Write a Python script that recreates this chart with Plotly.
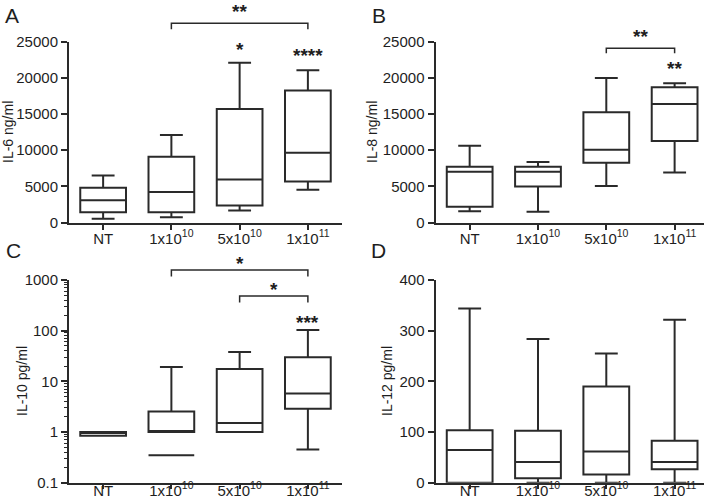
import plotly.graph_objects as go

W, H = 709, 498

categories = ["NT", "1x10<sup>10</sup>", "5x10<sup>10</sup>", "1x10<sup>11</sup>"]
cat_pos = [0, 1, 2, 3]

# Panel A: IL-6 ng/ml
il6_min = [510, 740, 1660, 4520]
il6_q1 = [1430, 1430, 2350, 5670]
il6_med = [3090, 4200, 5950, 9640]
il6_q3 = [4800, 9090, 15680, 18220]
il6_max = [6500, 12080, 22050, 21030]

# Panel B: IL-8 ng/ml
il8_min = [1570, 1480, 5030, 6920]
il8_q1 = [2170, 4980, 8260, 11260]
il8_med = [7010, 7010, 10060, 16380]
il8_q3 = [7700, 7700, 15220, 18680]
il8_max = [10610, 8350, 19970, 19230]

# Panel C: IL-10 pg/ml (log scale)
il10_min = [0.84, 1.0, 1.0, 0.45]
il10_q1 = [0.84, 1.0, 1.0, 2.87]
il10_med = [1.0, 1.0, 1.51, 5.73]
il10_q3 = [1.0, 2.55, 17.5, 29.9]
il10_max = [1.0, 19.3, 37.9, 102.6]
il10_low_cat = [1]          # detached lowest value line for 1x10^10
il10_low_val = [0.348]

# Panel D: IL-12 pg/ml
il12_min = [0, 0, 0, 0]
il12_q1 = [0, 8.8, 16.1, 26.4]
il12_med = [64.5, 41, 61.5, 41]
il12_q3 = [103.3, 102.6, 189.7, 82.8]
il12_max = [343.6, 283.5, 255, 321.6]

LINE = "#2a2a2a"
TXT = "#1e1e1e"
FONT = "Arial, Liberation Sans, sans-serif"

fig = go.Figure()

def add_box(xa, ya, q1, med, q3, lo, hi, x=cat_pos):
    fig.add_trace(go.Box(
        x=x, q1=q1, median=med, q3=q3, lowerfence=lo, upperfence=hi,
        xaxis=xa, yaxis=ya, width=0.67, whiskerwidth=0.5,
        fillcolor="rgba(255,255,255,0)", line=dict(color=LINE, width=2),
        boxpoints=False, showlegend=False, hoverinfo="skip"))

add_box("x", "y", il6_q1, il6_med, il6_q3, il6_min, il6_max)
add_box("x2", "y2", il8_q1, il8_med, il8_q3, il8_min, il8_max)
add_box("x3", "y3", il10_q1, il10_med, il10_q3, il10_min, il10_max)
add_box("x3", "y3", il10_low_val, il10_low_val, il10_low_val, il10_low_val, il10_low_val, x=il10_low_cat)
add_box("x4", "y4", il12_q1, il12_med, il12_q3, il12_min, il12_max)

def dx(a, b):
    return [a / W, b / W]

def dy(top, bottom):
    return [1 - bottom / H, 1 - top / H]

left_x = dx(69, 342)
right_x = dx(435.5, 704)
top_y = dy(41.5, 222.5)
bot_y = dy(280, 482.7)

xcommon = dict(tickvals=cat_pos, ticktext=categories, showline=True, linecolor=LINE,
               linewidth=2, ticks="outside", tickwidth=2, tickcolor=LINE,
               showgrid=False, zeroline=False, automargin=False,
               tickfont=dict(family=FONT, size=15, color=TXT))
ycommon = dict(showline=True, linecolor=LINE, linewidth=2, ticks="outside", ticklen=6,
               tickwidth=2, tickcolor=LINE, showgrid=False, zeroline=False, automargin=False,
               tickfont=dict(family=FONT, size=15, color=TXT))

fig.update_layout(
    width=W, height=H, margin=dict(l=0, r=0, t=0, b=0, autoexpand=False),
    plot_bgcolor="white", paper_bgcolor="white", showlegend=False,
    xaxis=dict(domain=left_x, range=[-0.5, 3.5], anchor="y", ticklen=5, ticklabelstandoff=-4, **xcommon),
    yaxis=dict(domain=top_y, range=[0, 25000], dtick=5000, tickformat="d", anchor="x", **ycommon),
    xaxis2=dict(domain=right_x, range=[-0.5, 3.43], anchor="y2", ticklen=5, ticklabelstandoff=-4, **xcommon),
    yaxis2=dict(domain=top_y, range=[0, 25000], dtick=5000, tickformat="d", anchor="x2", **ycommon),
    xaxis3=dict(domain=left_x, range=[-0.5, 3.5], anchor="y3", ticklen=4, ticklabelstandoff=-11, **xcommon),
    yaxis3=dict(domain=bot_y, type="log", range=[-1, 3], anchor="x3",
                tickvals=[0.1, 1, 10, 100, 1000], ticktext=["0.1", "1", "10", "100", "1000"],
                minor=dict(ticks="outside", ticklen=3, tickwidth=1, tickcolor=LINE,
                           tickvals=[m * 10 ** e for e in range(-1, 3) for m in range(2, 10)]),
                **ycommon),
    xaxis4=dict(domain=right_x, range=[-0.5, 3.43], anchor="y4", ticklen=4, ticklabelstandoff=-11, **xcommon),
    yaxis4=dict(domain=bot_y, range=[0, 400], dtick=100, anchor="x4", **ycommon),
)

ann = []
for letter, px, py in [("A", 12, 15), ("B", 379, 15), ("C", 13, 250), ("D", 379, 250)]:
    ann.append(dict(text=letter, x=px / W, y=1 - py / H, xref="paper", yref="paper",
                    showarrow=False, xanchor="center", yanchor="middle",
                    font=dict(family=FONT, size=21, color=TXT)))
for t, px, py in [("IL-6 ng/ml", 8, 132), ("IL-8 ng/ml", 372, 132),
                  ("IL-10 pg/ml", 22, 381), ("IL-12 pg/ml", 387, 381)]:
    ann.append(dict(text=t, x=px / W, y=1 - py / H, xref="paper", yref="paper",
                    showarrow=False, textangle=-90, xanchor="center", yanchor="middle",
                    font=dict(family=FONT, size=14, color=TXT)))

def star(text, xref, xv, gy):
    ann.append(dict(text="<b>" + text + "</b>", x=xv, y=1 - (gy + 4) / H, xref=xref, yref="paper",
                    showarrow=False, xanchor="center", yanchor="middle",
                    font=dict(family=FONT, size=19, color=TXT)))

shapes = []
def bracket(xref, x1, x2, ytop, ydrop):
    shapes.append(dict(type="path", xref=xref, yref="paper",
                       path=f"M {x1},{1 - ydrop / H} L {x1},{1 - ytop / H} L {x2},{1 - ytop / H} L {x2},{1 - ydrop / H}",
                       line=dict(color=LINE, width=1.5)))

bracket("x", 1, 3, 23.3, 29.3)
star("**", "x", 2, 7)
star("*", "x", 2, 45)
star("****", "x", 3, 52)
bracket("x2", 2, 3, 48.3, 53.3)
star("**", "x2", 2.5, 32)
star("**", "x2", 3, 65)
bracket("x3", 1, 3, 270, 276.5)
star("*", "x3", 2, 259.5)
bracket("x3", 2, 3, 296, 302.5)
star("*", "x3", 2.5, 285)
star("***", "x3", 3, 318.5)

fig.update_layout(annotations=ann, shapes=shapes)
fig.write_html("out.html", config={"displayModeBar": False},
               post_script="document.body.style.margin='0';document.body.style.padding='0';")
